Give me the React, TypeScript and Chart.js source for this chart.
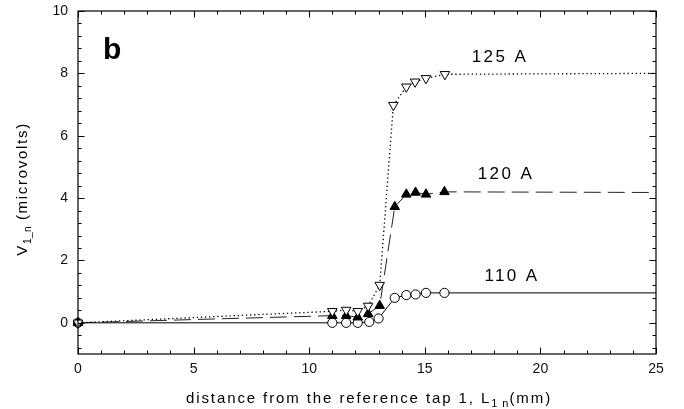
import React, { useEffect, useRef } from "react";
import { Chart, registerables } from "chart.js";

Chart.register(...registerables);

// ---- data ----
const xs110 = [0, 11.0, 11.6, 12.1, 12.6, 13.0, 13.7, 14.2, 14.6, 15.05, 15.85, 25];
const v110 = [0, 0, 0, 0, 0.03, 0.14, 0.8, 0.89, 0.91, 0.96, 0.96, 0.96];
const xs120 = [0, 11.0, 11.6, 12.1, 12.55, 13.05, 13.7, 14.2, 14.6, 15.05, 15.85, 25];
const v120 = [0, 0.23, 0.23, 0.18, 0.29, 0.55, 3.72, 4.12, 4.18, 4.12, 4.2, 4.18];
const xs125 = [0, 11.0, 11.6, 12.1, 12.55, 13.05, 13.64, 14.2, 14.58, 15.05, 15.87, 25];
const v125 = [0, 0.37, 0.41, 0.37, 0.54, 1.21, 6.98, 7.57, 7.73, 7.84, 7.97, 8.0];
const seriesLabels = ["110 A", "120 A", "125 A"];
const xTicks = [0, 5, 10, 15, 20, 25];
const yTicks = [0, 2, 4, 6, 8, 10];
const panelLetter = "b";
const xTitleMain = "distance from the reference tap 1, L";
const xTitleSub = "1 n";
const xTitleEnd = "(mm)";
const yTitleMain = "V";
const yTitleSub = "1_n";
const yTitleEnd = " (microvolts)";

const FONT = "'Liberation Sans', Arial, sans-serif";

const pts = (xs: number[], ys: number[]) => xs.map((x, i) => ({ x, y: ys[i] }));
const radii = (n: number, r: number) => Array.from({ length: n }, (_, i) => (i === n - 1 ? 0 : r));

const framePlugin = {
  id: "frame",
  afterDraw(chart: any) {
    const { ctx, chartArea: a, scales } = chart;
    const xs = scales.x;
    const ys = scales.y;
    ctx.save();
    ctx.strokeStyle = "#000";
    ctx.lineWidth = 1.2;
    ctx.setLineDash([]);
    ctx.strokeRect(a.left, a.top, a.right - a.left, a.bottom - a.top);
    ctx.lineWidth = 1;
    ctx.beginPath();
    for (let v = 0; v <= 25; v += 1) {
      const px = Math.round(xs.getPixelForValue(v)) + 0.5;
      const L = v % 5 === 0 ? 6.5 : 3.5;
      ctx.moveTo(px, a.bottom);
      ctx.lineTo(px, a.bottom - L);
      ctx.moveTo(px, a.top);
      ctx.lineTo(px, a.top + L);
    }
    for (let k = -2; k <= 25; k++) {
      const v = k * 0.4;
      const py = Math.round(ys.getPixelForValue(v)) + 0.5;
      const L = k % 5 === 0 ? 6.5 : 3.5;
      ctx.moveTo(a.left, py);
      ctx.lineTo(a.left + L, py);
      ctx.moveTo(a.right, py);
      ctx.lineTo(a.right - L, py);
    }
    ctx.stroke();

    ctx.fillStyle = "#000";
    // series labels
    (ctx as any).letterSpacing = "2.4px";
    ctx.font = `17px ${FONT}`;
    ctx.textAlign = "center";
    ctx.textBaseline = "middle";
    const anchors = [
      [18.77, 1.5],
      [18.51, 4.77],
      [18.25, 8.52],
    ];
    seriesLabels.forEach((t, i) => {
      ctx.fillText(t, xs.getPixelForValue(anchors[i][0]), ys.getPixelForValue(anchors[i][1]));
    });

    // panel letter
    (ctx as any).letterSpacing = "0px";
    ctx.font = `bold 30px ${FONT}`;
    ctx.textAlign = "left";
    ctx.textBaseline = "alphabetic";
    ctx.fillText(panelLetter, 103, 59);

    // x title
    const drawTitle = (cx: number, baseline: number) => {
      ctx.textAlign = "left";
      ctx.textBaseline = "alphabetic";
      (ctx as any).letterSpacing = "1.9px";
      ctx.font = `15px ${FONT}`;
      const w1 = ctx.measureText(xTitleMain).width;
      const w3 = ctx.measureText(xTitleEnd).width;
      (ctx as any).letterSpacing = "1px";
      ctx.font = `11px ${FONT}`;
      const w2 = ctx.measureText(xTitleSub).width;
      let x = cx - (w1 + w2 + w3) / 2;
      (ctx as any).letterSpacing = "1.9px";
      ctx.font = `15px ${FONT}`;
      ctx.fillText(xTitleMain, x, baseline);
      x += w1;
      (ctx as any).letterSpacing = "1px";
      ctx.font = `11px ${FONT}`;
      ctx.fillText(xTitleSub, x, baseline + 4);
      x += w2;
      (ctx as any).letterSpacing = "1.9px";
      ctx.font = `15px ${FONT}`;
      ctx.fillText(xTitleEnd, x, baseline);
    };
    drawTitle(369, 403);

    // y title
    ctx.save();
    ctx.translate(27, 189);
    ctx.rotate(-Math.PI / 2);
    (ctx as any).letterSpacing = "1.7px";
    ctx.font = `15px ${FONT}`;
    const a1 = ctx.measureText(yTitleMain).width;
    const a3 = ctx.measureText(yTitleEnd).width;
    (ctx as any).letterSpacing = "0.5px";
    ctx.font = `10px ${FONT}`;
    const a2 = ctx.measureText(yTitleSub).width;
    let yx = -(a1 + a2 + a3) / 2;
    (ctx as any).letterSpacing = "1.7px";
    ctx.font = `15px ${FONT}`;
    ctx.fillText(yTitleMain, yx, 0);
    yx += a1;
    (ctx as any).letterSpacing = "0.5px";
    ctx.font = `10px ${FONT}`;
    ctx.fillText(yTitleSub, yx, 4);
    yx += a2;
    (ctx as any).letterSpacing = "1.7px";
    ctx.font = `15px ${FONT}`;
    ctx.fillText(yTitleEnd, yx, 0);
    ctx.restore();

    ctx.restore();
  },
};

export default function App() {
  const ref = useRef<HTMLCanvasElement | null>(null);
  useEffect(() => {
    if (!ref.current) return;
    const chart = new Chart(ref.current, {
      type: "line",
      data: {
        datasets: [
          {
            label: seriesLabels[0],
            data: pts(xs110, v110),
            borderColor: "#000",
            borderWidth: 1,
            pointStyle: "circle",
            pointRadius: radii(xs110.length, 4.6),
            pointBackgroundColor: "#fff",
            pointBorderColor: "#000",
            pointBorderWidth: 1,
            tension: 0,
            clip: false,
            order: 3,
          },
          {
            label: seriesLabels[1],
            data: pts(xs120, v120),
            borderColor: "#222",
            borderWidth: 1,
            borderDash: [17, 7],
            pointStyle: "triangle",
            pointRadius: radii(xs120.length, 5.5),
            pointBackgroundColor: "#000",
            pointBorderColor: "#000",
            pointBorderWidth: 1,
            tension: 0,
            clip: false,
            order: 2,
          },
          {
            label: seriesLabels[2],
            data: pts(xs125, v125),
            borderColor: "#000",
            borderWidth: 1.3,
            borderDash: [1.3, 2.8],
            pointStyle: "triangle",
            pointRotation: 180,
            pointRadius: radii(xs125.length, 5.5),
            pointBackgroundColor: "#fff",
            pointBorderColor: "#000",
            pointBorderWidth: 1,
            tension: 0,
            clip: false,
            order: 1,
          },
        ] as any,
      },
      options: {
        animation: false,
        responsive: false,
        devicePixelRatio: 1,
        layout: { padding: { top: 11, right: 28, left: 0, bottom: 0 } },
        plugins: { legend: { display: false }, tooltip: { enabled: false }, title: { display: false } },
        scales: {
          x: {
            type: "linear",
            min: 0,
            max: 25,
            grid: { display: false, drawTicks: false },
            border: { display: false },
            afterBuildTicks: (s: any) => {
              s.ticks = xTicks.map((v) => ({ value: v }));
            },
            afterFit: (s: any) => {
              s.height = 55;
              s.paddingLeft = 0;
              s.paddingRight = 0;
            },
            ticks: { color: "#111", padding: 7, maxRotation: 0, font: { family: FONT, size: 14 } },
          },
          y: {
            type: "linear",
            min: -1,
            max: 10,
            grid: { display: false, drawTicks: false },
            border: { display: false },
            afterBuildTicks: (s: any) => {
              s.ticks = yTicks.map((v) => ({ value: v }));
            },
            afterFit: (s: any) => {
              s.width = 78;
              s.paddingTop = 0;
              s.paddingBottom = 0;
            },
            ticks: { color: "#111", padding: 10, font: { family: FONT, size: 14 } },
          },
        },
      } as any,
      plugins: [framePlugin],
    });
    return () => chart.destroy();
  }, []);
  return (
    <div style={{ position: "absolute", left: 0, top: 0, width: 684, height: 409, background: "#fff" }}>
      <canvas ref={ref} width={684} height={409} style={{ display: "block" }} />
    </div>
  );
}
